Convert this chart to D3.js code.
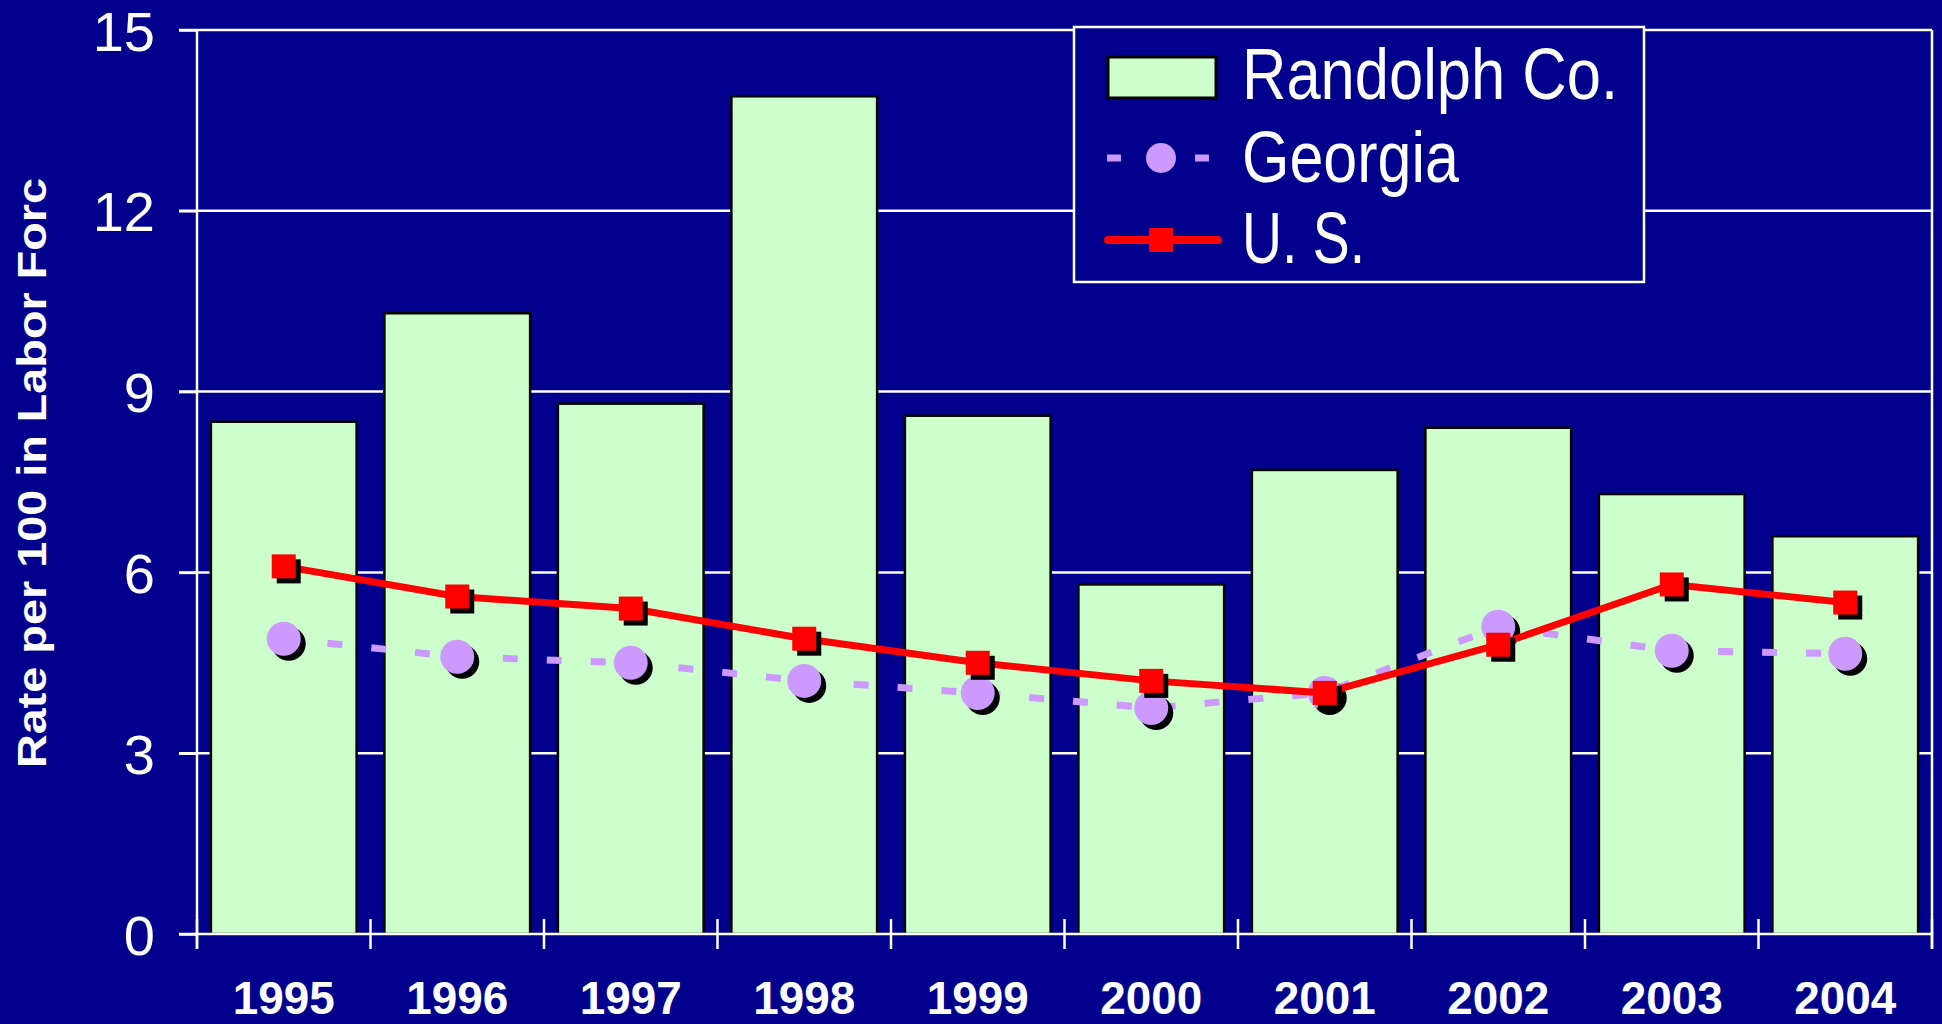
<!DOCTYPE html>
<html>
<head>
<meta charset="utf-8">
<script src="https://cdn.jsdelivr.net/npm/d3@7/dist/d3.min.js"></script>
<style>
  html, body { margin: 0; padding: 0; background: #00008C; }
  svg { display: block; }
  text { font-family: Arial, "Liberation Sans", sans-serif; fill: #fff; }
</style>
</head>
<body>
<svg id="chart" width="1942" height="1024"></svg>
<script>
const years = ["1995","1996","1997","1998","1999","2000","2001","2002","2003","2004"];
const randolph = [8.5, 10.3, 8.8, 13.9, 8.6, 5.8, 7.7, 8.4, 7.3, 6.6];
const georgia = [4.9, 4.6, 4.5, 4.2, 4.0, 3.75, 4.0, 5.1, 4.7, 4.65];
const us = [6.1, 5.6, 5.4, 4.9, 4.5, 4.2, 4.0, 4.8, 5.8, 5.5];
const yTicks = [0, 3, 6, 9, 12, 15];
const seriesNames = ["Randolph Co.", "Georgia", "U. S."];
const legendWidths = [376, 217, 123];

const BG = "#00008C", GREEN = "#CCFFCC", LAV = "#CC99FF", RED = "#FF0000";
const svg = d3.select("#chart");
svg.append("rect").attr("width", 1942).attr("height", 1024).attr("fill", BG);

const L = 197, R = 1932, T = 30, B = 934;
const x = d3.scaleBand().domain(years).range([L, R]).paddingInner(0.16).paddingOuter(0.08);
const y = d3.scaleLinear().domain([0, 15]).range([B, T]);
const cx = d => x(d) + x.bandwidth() / 2;

// gridlines
svg.append("g").selectAll("line").data(yTicks.filter(t => t > 0)).join("line")
  .attr("x1", 179).attr("x2", R).attr("y1", d => y(d)).attr("y2", d => y(d))
  .attr("stroke", "#fff").attr("stroke-width", 2.5);

// y axis
const yAxis = svg.append("g").attr("transform", `translate(${L},0)`)
  .call(d3.axisLeft(y).tickValues(yTicks).tickSize(18).tickPadding(24).tickFormat(d3.format("d")));
yAxis.select(".domain").remove();
yAxis.selectAll(".tick line").attr("stroke", "#fff").attr("stroke-width", 2.5);
yAxis.selectAll(".tick text").attr("font-size", 56).attr("fill", "#fff").attr("dy", "0.36em");

// bars
svg.append("g").selectAll("rect").data(years).join("rect")
  .attr("x", d => x(d)).attr("y", (d, i) => y(randolph[i]))
  .attr("width", x.bandwidth()).attr("height", (d, i) => B - y(randolph[i]))
  .attr("fill", GREEN).attr("stroke", "#000").attr("stroke-width", 2.5);

// axis lines
svg.append("line").attr("x1", L).attr("x2", L).attr("y1", T).attr("y2", B + 15)
  .attr("stroke", "#fff").attr("stroke-width", 2.5);
svg.append("line").attr("x1", R).attr("x2", R).attr("y1", T).attr("y2", B + 15)
  .attr("stroke", "#fff").attr("stroke-width", 2.5);
svg.append("line").attr("x1", 179).attr("x2", R).attr("y1", B).attr("y2", B)
  .attr("stroke", "#fff").attr("stroke-width", 2.5);

// x axis ticks (category boundaries) & labels
const bounds = years.map((d, i) => L + i * x.step()).concat([R]);
svg.append("g").selectAll("line").data(bounds).join("line")
  .attr("x1", d => d).attr("x2", d => d).attr("y1", B - 15).attr("y2", B + 15)
  .attr("stroke", "#fff").attr("stroke-width", 2.5);
svg.append("g").selectAll("text").data(years).join("text")
  .attr("x", d => cx(d)).attr("y", 1014).attr("text-anchor", "middle")
  .attr("font-size", 47).attr("font-weight", "bold")
  .attr("textLength", 102).attr("lengthAdjust", "spacingAndGlyphs").text(d => d);

// y title
svg.append("text").attr("transform", "translate(46,473) rotate(-90)")
  .attr("text-anchor", "middle").attr("font-size", 40).attr("font-weight", "bold")
  .attr("textLength", 590).attr("lengthAdjust", "spacingAndGlyphs")
  .text("Rate per 100 in Labor Forc");

// Georgia series
const lineGen = arr => d3.line().x((d, i) => cx(years[i])).y(d => y(d))(arr);
svg.append("path").attr("d", lineGen(georgia)).attr("fill", "none")
  .attr("stroke", LAV).attr("stroke-width", 7).attr("stroke-dasharray", "15,29");
const gG = svg.append("g");
gG.selectAll("circle.sh").data(georgia).join("circle").attr("class", "sh")
  .attr("cx", (d, i) => cx(years[i]) + 5).attr("cy", d => y(d) + 5).attr("r", 17).attr("fill", "#000");
gG.selectAll("circle.pt").data(georgia).join("circle").attr("class", "pt")
  .attr("cx", (d, i) => cx(years[i])).attr("cy", d => y(d)).attr("r", 17).attr("fill", LAV);

// US series
svg.append("path").attr("d", lineGen(us)).attr("fill", "none")
  .attr("stroke", RED).attr("stroke-width", 7).attr("stroke-linejoin", "round");
const gU = svg.append("g");
const S = 24;
gU.selectAll("rect.sh").data(us).join("rect").attr("class", "sh")
  .attr("x", (d, i) => cx(years[i]) - S / 2 + 5).attr("y", d => y(d) - S / 2 + 5)
  .attr("width", S).attr("height", S).attr("fill", "#000");
gU.selectAll("rect.pt").data(us).join("rect").attr("class", "pt")
  .attr("x", (d, i) => cx(years[i]) - S / 2).attr("y", d => y(d) - S / 2)
  .attr("width", S).attr("height", S).attr("fill", RED);

// legend
const lg = svg.append("g");
lg.append("rect").attr("x", 1074).attr("y", 27).attr("width", 570).attr("height", 255)
  .attr("fill", BG).attr("stroke", "#fff").attr("stroke-width", 2.5);
const rows = [77, 158, 240];
lg.append("rect").attr("x", 1108).attr("y", 57).attr("width", 108).attr("height", 41)
  .attr("fill", GREEN).attr("stroke", "#000").attr("stroke-width", 3);
lg.append("rect").attr("x", 1107).attr("y", rows[1] - 3.5).attr("width", 14).attr("height", 7).attr("fill", LAV);
lg.append("rect").attr("x", 1195).attr("y", rows[1] - 3.5).attr("width", 14).attr("height", 7).attr("fill", LAV);
lg.append("circle").attr("cx", 1161).attr("cy", rows[1]).attr("r", 15).attr("fill", LAV);
lg.append("line").attr("x1", 1108).attr("x2", 1218).attr("y1", rows[2]).attr("y2", rows[2])
  .attr("stroke", RED).attr("stroke-width", 8).attr("stroke-linecap", "round");
lg.append("rect").attr("x", 1161 - 12).attr("y", rows[2] - 12).attr("width", 24).attr("height", 24).attr("fill", RED);
const baselines = [99, 182, 263];
lg.selectAll("text").data(seriesNames).join("text")
  .attr("x", 1242).attr("y", (d, i) => baselines[i])
  .attr("font-size", 72).attr("textLength", (d, i) => legendWidths[i])
  .attr("lengthAdjust", "spacingAndGlyphs").text(d => d);
</script>
</body>
</html>
